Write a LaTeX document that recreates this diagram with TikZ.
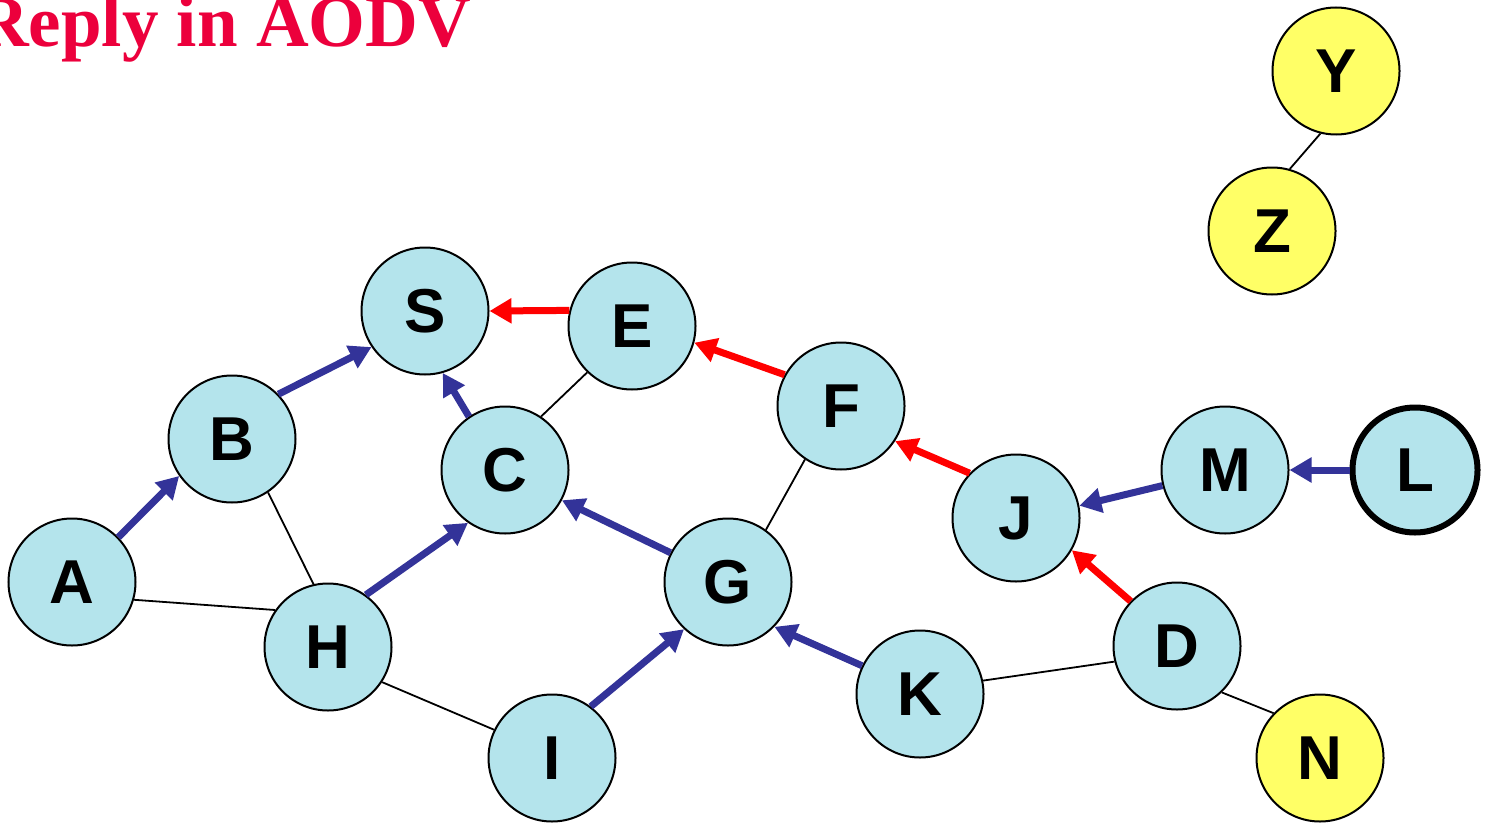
\documentclass[tikz,border=0pt]{standalone}
\usepackage{fontspec}
\setmainfont{Liberation Serif}
\newfontfamily\arialb{Liberation Sans Bold}
\usetikzlibrary{arrows.meta}
\definecolor{nodecyan}{RGB}{180,228,236}
\definecolor{nodeyellow}{RGB}{255,255,102}
\definecolor{arrblue}{RGB}{51,51,153}
\definecolor{arrred}{RGB}{255,0,0}
\definecolor{titlered}{RGB}{236,0,60}
\tikzset{
  net/.style={circle, draw=black, line width=2pt, minimum size=127pt, inner sep=0pt,
    fill=nodecyan, font=\arialb\fontsize{62}{62}\selectfont},
  iso/.style={net, fill=nodeyellow},
  link/.style={line width=1.8pt, black},
  rrep/.style={line width=7pt, arrred, -{Triangle[length=22pt,width=24pt]}},
  bpath/.style={line width=7pt, arrblue, -{Triangle[length=22pt,width=24pt]}}
}
\begin{document}
\begin{tikzpicture}[x=1pt,y=-1pt]
\useasboundingbox (0,0) rectangle (1490,824);
\node[anchor=base west, inner sep=0pt, text=titlered, font=\bfseries\fontsize{73}{80}\selectfont] (title) at (-24,47) {Reply in AODV};

\node[net] (S) at (425,311) {S};
\node[net] (E) at (632,326) {E};
\node[net] (B) at (232,439) {B};
\node[net] (C) at (505,470) {C};
\node[net] (F) at (841,406) {F};
\node[net] (A) at (72,582) {A};
\node[net] (H) at (328,647) {H};
\node[net] (G) at (728,582) {G};
\node[net] (I) at (552,758) {I};
\node[net] (K) at (920,694) {K};
\node[net] (D) at (1177,646) {D};
\node[net] (J) at (1016,518) {J};
\node[net] (M) at (1225,470) {M};
\node[net, line width=6pt, minimum size=125pt] (L) at (1415,470) {L};
\node[iso] (Y) at (1336,71) {Y};
\node[iso] (Z) at (1272,231) {Z};
\node[iso] (N) at (1320,758) {N};

% thin links
\draw[link] (E.226) -- (C.56);
\draw[link] (B.304) -- (H.103);
\draw[link] (A.-16) -- (H.145);
\draw[link] (H.-33) -- (I.154);
\draw[link] (F.236) -- (G.54);
\draw[link] (K.12) -- (D.194);
\draw[link] (D.314) -- (N.136);
\draw[link] (Y.256) -- (Z.74);

% blue reverse-path arrows
\draw[bpath] (A.44) -- (B.215);
\draw[bpath] (B.44) -- (S.214);
\draw[bpath] (C.124) -- (S.286);
\draw[bpath] (H.54) -- (C.235);
\draw[bpath] (G.153) -- (C.332);
\draw[bpath] (I.53) -- (G.227);
\draw[bpath] (K.154) -- (G.316);
\draw[bpath] (M.194) -- (J.11);
\draw[bpath] (L.180) -- (M.0);

% red RREP arrows
\draw[rrep] (E.166) -- (S.0);
\draw[rrep] (F.151) -- (E.-15);
\draw[rrep] (J.136) -- (F.327);
\draw[rrep] (D.136) -- (J.330);
\end{tikzpicture}
\end{document}
